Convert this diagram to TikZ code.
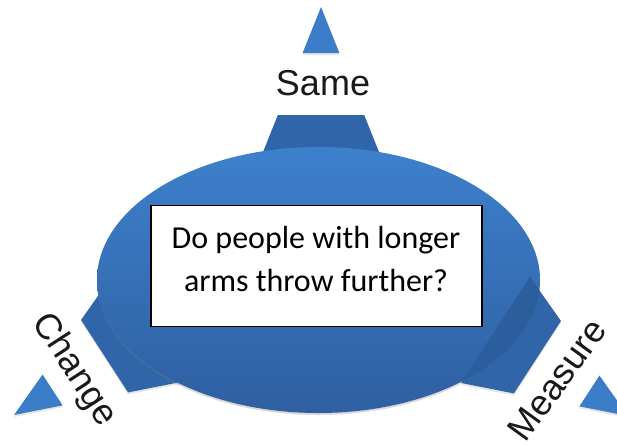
\documentclass[tikz,border=0pt]{standalone}
\usepackage{fontspec}
\setmainfont{Liberation Sans}
\newfontfamily\questionfont{Carlito}
\usetikzlibrary{shadows, positioning}

\definecolor{tipblue}{HTML}{3C7DC9}
\definecolor{armblue}{HTML}{3066A9}
\definecolor{armdark}{HTML}{2C5D9D}
\definecolor{ovaltop}{HTML}{3E80CC}
\definecolor{ovalbottom}{HTML}{2E5FA1}

\begin{document}
\begin{tikzpicture}[
    x=1pt, y=-1pt,
    tipshape/.style={fill=tipblue, drop shadow={shadow xshift=0pt, shadow yshift=-2pt, opacity=0.2}},
    armshape/.style={fill=armblue, drop shadow={shadow xshift=0pt, shadow yshift=-2pt, opacity=0.2}},
    oval/.style={top color=ovaltop, bottom color=ovalbottom, drop shadow={shadow xshift=0pt, shadow yshift=-2pt, opacity=0.3}},
    qbox/.style={rectangle, draw=black, line width=1.3pt, fill=white, minimum width=331pt, minimum height=121pt, inner sep=0pt},
    question/.style={font=\questionfont\fontsize{32}{43}\selectfont, align=center, inner sep=0pt},
    armlabel/.style={font=\fontsize{36}{43}\selectfont, text=black!90, inner sep=0pt}
]
\useasboundingbox (0,0) rectangle (617,444);

% Top arm (Same)
\begin{scope}[shift={(321,7)}, rotate=-90]
  \fill[tipshape] (0,0) -- (46,18.4) -- (46,-18.4) -- cycle;
  \fill[armshape] (108,43.2) -- (108,-43.2) -- (158,-63.2) -- (158,63.2) -- cycle;
\end{scope}

% Left arm (Change)
\begin{scope}[shift={(14,415)}, rotate=33]
  \fill[tipshape] (0,0) -- (46,18.4) -- (46,-18.4) -- cycle;
  \fill[armshape] (108,43.2) -- (108,-43.2) -- (158,-63.2) -- (158,63.2) -- cycle;
\end{scope}

% Centre oval
\path[oval] (318.5,280) ellipse [x radius=221.5pt, y radius=133pt];

% Right arm (Measure), lies over the oval
\begin{scope}[shift={(628,416)}, rotate=147]
  \fill[tipshape] (0,0) -- (46,18.4) -- (46,-18.4) -- cycle;
  \fill[armshape] (108,43.2) -- (108,-43.2) -- (158,-63.2) -- (158,63.2) -- cycle;
  \coordinate (m1) at (108,43.2);
  \coordinate (m2) at (108,-43.2);
  \coordinate (m3) at (158,-63.2);
  \coordinate (m4) at (158,63.2);
\end{scope}
\begin{scope}
  \clip (318.5,280) ellipse [x radius=221.5pt, y radius=133pt];
  \fill[armdark] (m1) -- (m2) -- (m3) -- (m4) -- cycle;
\end{scope}

% Question box
\node[qbox] (box) at (316.5,266) {};
\node[question] (askq) at (316,259) {Do people with longer\\arms throw further?};

% Arm labels
\node[armlabel] (same) at (323,83) {Same};
\node[armlabel, rotate=-57] (change) at (74,370) {Change};
\node[armlabel, rotate=54] (measure) at (557,380) {Measure};

\end{tikzpicture}
\end{document}
